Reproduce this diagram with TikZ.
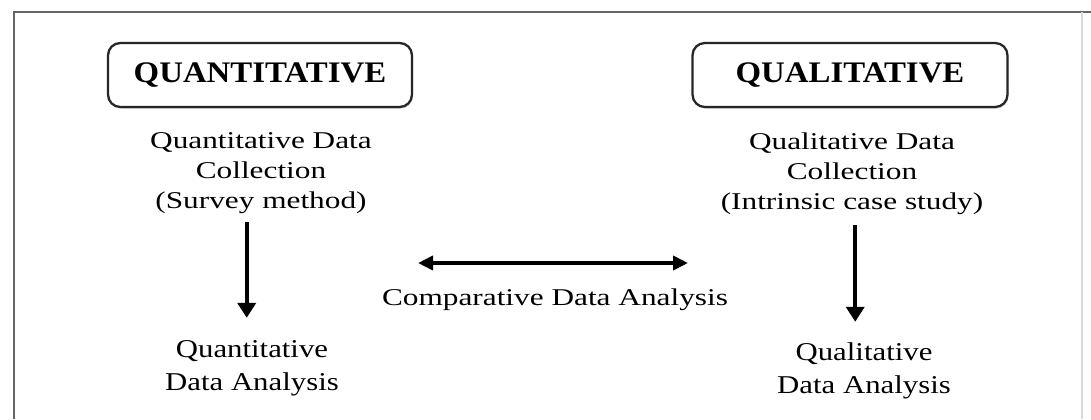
\documentclass[tikz,border=0pt]{standalone}
\usepackage{fontspec}
\setmainfont{Liberation Serif}
\newfontfamily\headfont{Liberation Serif}[FakeStretch=1.1]
\newfontfamily\widefont{Liberation Serif}[FakeStretch=1.3]
\newfontfamily\midfont{Liberation Serif}[FakeStretch=1.2]
\usetikzlibrary{positioning,arrows.meta,shadows}

\begin{document}
\begin{tikzpicture}[x=0.02cm, y=-0.02cm,
  box/.style={draw=black!85, fill=white, line width=1.3pt, rounded corners=7pt,
              minimum height=1.28cm,
              drop shadow={shadow xshift=0.6pt, shadow yshift=-1pt, opacity=0.3},
              font=\headfont\fontsize{17}{20}\selectfont\bfseries},
  txt/.style={align=center, anchor=base, inner sep=0pt,
              font=\widefont\fontsize{13.7}{17}\selectfont},
  res/.style={align=center, anchor=base, inner sep=0pt,
              font=\midfont\fontsize{14.6}{18.7}\selectfont},
  arr/.style={-{Triangle[width=3.6mm,length=3mm]}, line width=2.2pt},
  both/.style={{Triangle[width=2.8mm,length=3mm]}-{Triangle[width=2.8mm,length=3mm]},
               line width=2.2pt}]
\useasboundingbox (0,0) rectangle (1091,419);
% frame
\draw[black!60, line width=1.5pt] (14,419) -- (14,12) -- (1091,12);
\draw[black!15, line width=0.8pt] (1082,12) -- (1082,419);
% the two headings
\node[box, minimum width=6.08cm] (quan) at (260,75) {QUANTITATIVE};
\node[box, minimum width=6.3cm] (qual) at (850,75) {QUALITATIVE};
% collection (base = last line)
\node[txt] (qncoll) at (261,208) {Quantitative Data\\Collection\\(Survey method)};
\node[txt] (qlcoll) at (852,209) {Qualitative Data\\Collection\\(Intrinsic case study)};
% analysis
\node[res] (qnres) at (252,390) {Quantitative\\Data Analysis};
\node[res] (qlres) at (864,393) {Qualitative\\Data Analysis};
\node[txt] (cmp) at (555,305) {Comparative Data Analysis};
\coordinate (cl) at (418,263);
\coordinate (cr) at (688,263);
\draw[arr, shorten <=5pt, shorten >=12.5pt] ([xshift=-3pt]qnres.north |- qncoll.south) -- ([xshift=-3pt]qnres.north);
\draw[arr, shorten <=6pt, shorten >=11.5pt] ([xshift=-5pt]qlres.north |- qlcoll.south) -- ([xshift=-5pt]qlres.north);
\draw[both] (cl) -- (cr);
\end{tikzpicture}
\end{document}
